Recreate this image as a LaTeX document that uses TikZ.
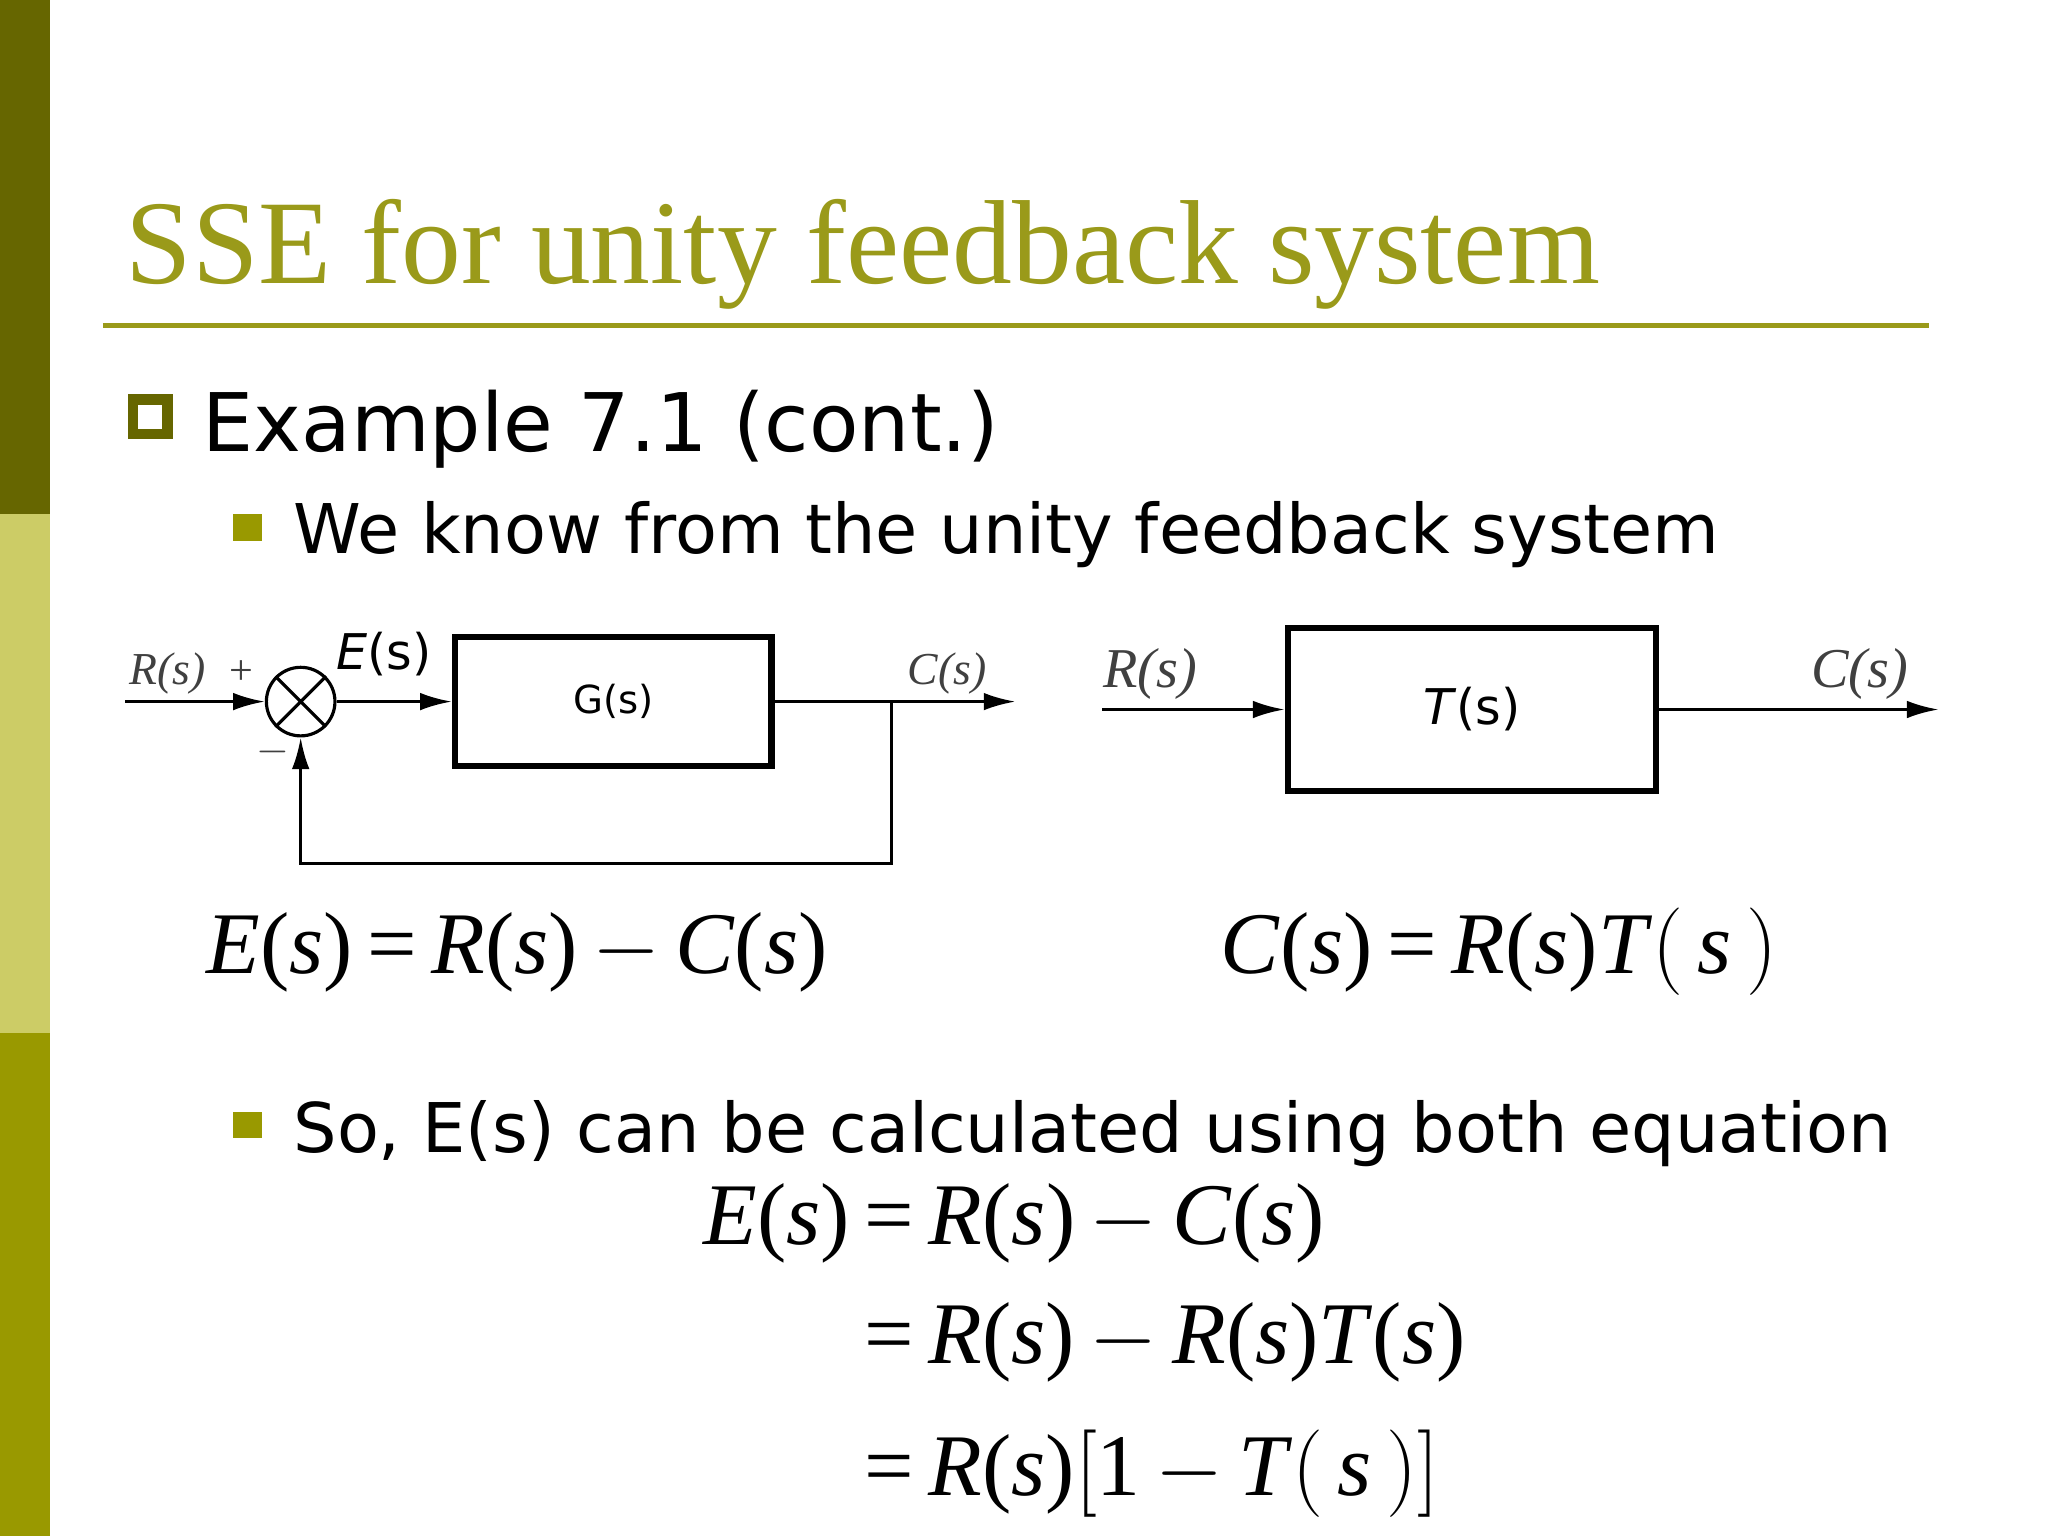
\documentclass[tikz,border=0pt]{standalone}
\usepackage{fontspec}
\setmainfont{Liberation Serif}
\newfontfamily\bodyf{DejaVu Sans}
\usetikzlibrary{arrows.meta}
\definecolor{olive}{HTML}{9A9A1A}
\definecolor{darkol}{HTML}{666600}
\definecolor{lightol}{HTML}{CCCC66}
\definecolor{midol}{HTML}{999900}
\newcommand{\mi}{\,$-$\,}
\begin{document}
\begin{tikzpicture}[x=0.013188cm,y=-0.013188cm,
  ln/.style={line width=0.9pt},
  arr/.style={ln,-{Latex[length=9pt,width=5pt]}},
  lbl/.style={font=\fontsize{13}{13}\selectfont\itshape, text=black!75},
  eq/.style={font=\fontsize{25}{25}\selectfont, anchor=base west, inner sep=0},
  blk/.style={draw,line width=1.8pt}]
\useasboundingbox (0,0) rectangle (1553,1165);
\fill[darkol] (0,0) rectangle (38,390);
\fill[lightol] (0,390) rectangle (38,783);
\fill[midol] (0,783) rectangle (38,1165);
\node[anchor=base west,inner sep=0,text=olive,font=\fontsize{34}{34}\selectfont] (title) at (95,215) {SSE for unity feedback system};
\draw[olive,line width=1.5pt] (78,247) -- (1463,247);
\draw[darkol,line width=3pt] (101,303) rectangle (127,329);
\node[anchor=base west,inner sep=0,font=\bodyf\fontsize{23}{23}\selectfont] (ex) at (153,342) {Example 7.1 (cont.)};
\fill[midol] (177,390) rectangle (199,410);
\node[anchor=base west,inner sep=0,font=\bodyf\fontsize{19.5}{19.5}\selectfont] (t1) at (222,420) {We know from the unity feedback system};
% left diagram
\coordinate (rin) at (95,532);
\node[draw,circle,ln,minimum size=52*0.013188cm,inner sep=0] (sum) at (228,532) {};
\draw[ln] (sum.45) -- (sum.225) (sum.135) -- (sum.315);
\node[blk,minimum width=240*0.013188cm,minimum height=98*0.013188cm] (G) at (465,532) {\bodyf\fontsize{11}{11}\selectfont G(s)};
\coordinate (cout) at (770,532);
\coordinate (tap) at (676,532);
\coordinate (fb1) at (676,655);
\coordinate (fb2) at (228,655);
\draw[arr] (rin) -- (sum);
\draw[arr] (sum) -- (G);
\draw[arr] (G) -- (cout);
\draw[arr] (tap) -- (fb1) -- (fb2) -- (sum);
\node[lbl] (lr) at (127,511) {R(\textit{s})};
\node[font=\fontsize{12}{12}\selectfont,text=black!75] (lp) at (183,510) {+};
\node[font=\fontsize{12}{12}\selectfont,text=black!75] (lm) at (207,570) {$-$};
\node[font=\bodyf\fontsize{14}{14}\selectfont] (le) at (291,496) {\textit{E}(s)};
\node[lbl] (lc) at (718,511) {C(\textit{s})};
% right diagram
\coordinate (rin2) at (836,538);
\node[blk,minimum width=279*0.013188cm,minimum height=124*0.013188cm] (T) at (1116,538) {\bodyf\fontsize{14}{14}\selectfont\textit{T}(s)};
\coordinate (cout2) at (1470,538);
\draw[arr] (rin2) -- (T);
\draw[arr] (T) -- (cout2);
\node[lbl,font=\fontsize{16}{16}\selectfont\itshape] (lr2) at (872,511) {R(\textit{s})};
\node[lbl,font=\fontsize{16}{16}\selectfont\itshape] (lc2) at (1410,511) {C(\textit{s})};
% equations
\node[eq] (e1) at (156,738) {\textit{E}(\textit{s})\,=\,\textit{R}(\textit{s})\mi\textit{C}(\textit{s})};
\node[eq] (e2) at (925,738) {\textit{C}(\textit{s})\,=\,\textit{R}(\textit{s})\textit{T}$\bigl($\,\textit{s}\,$\bigr)$};
\fill[midol] (177,843) rectangle (199,863);
\node[anchor=base west,inner sep=0,font=\bodyf\fontsize{19.5}{19.5}\selectfont] (t2) at (222,874) {So, E(s) can be calculated using both equation};
\node[eq] (e3) at (533,944) {\textit{E}(\textit{s})\,=\,\textit{R}(\textit{s})\mi\textit{C}(\textit{s})};
\node[eq] (e4) at (655,1034) {=\,\textit{R}(\textit{s})\mi\textit{R}(\textit{s})\textit{T}(\textit{s})};
\node[eq] (e5) at (655,1134) {=\,\textit{R}(\textit{s})$\Bigl[$1\mi\textit{T}$\bigl($\,\textit{s}\,$\bigr)\Bigr]$};
\end{tikzpicture}
\end{document}
